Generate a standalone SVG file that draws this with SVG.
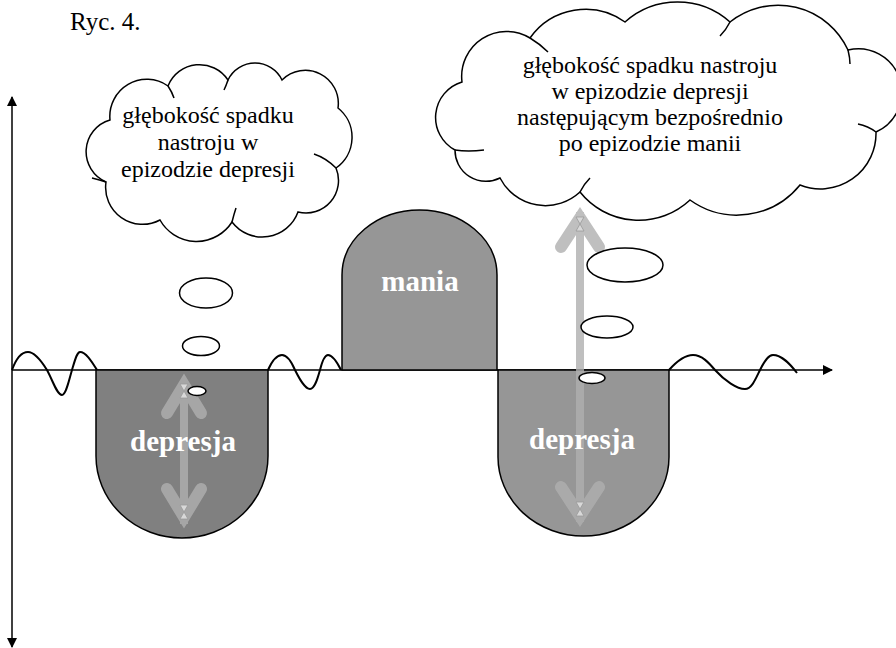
<svg xmlns="http://www.w3.org/2000/svg" width="896" height="648" viewBox="0 0 896 648">
<style>
.ax{stroke:#000;stroke-width:1.5;fill:none}
.wave{stroke:#000;stroke-width:2;fill:none}
.shape{stroke:#000;stroke-width:1.5}
.cloud{fill:#fff;stroke:#000;stroke-width:1.5}
.fold{fill:none;stroke:#000;stroke-width:1.5}
.bub{fill:#fff;stroke:#000;stroke-width:1.5}
.lbl{font-family:"Liberation Serif","Times New Roman",serif;font-weight:bold;fill:#fff;text-anchor:middle}
.ct{font-family:"Liberation Serif","Times New Roman",serif;font-size:24px;fill:#000;text-anchor:middle}
.arr{opacity:0.8}
.arr line,.arr polyline{stroke:#b0b0b0;fill:none}
.hg{fill:#d8d8d8;stroke:#999;stroke-width:0.8}
</style>
<defs>
<marker id="ah" viewBox="0 0 10 10" refX="9" refY="5" markerWidth="10" markerHeight="10" markerUnits="userSpaceOnUse" orient="auto">
<path d="M0,0 L10,5 L0,10 Z" fill="#000"/>
</marker>
</defs>
<rect width="896" height="648" fill="#fff"/>
<text x="70" y="30" font-family="'Liberation Serif','Times New Roman',serif" font-size="25">Ryc. 4.</text>

<g id="axes">
<line class="ax" x1="12" y1="370" x2="12" y2="97" style="marker-end:url(#ah)"/>
<line class="ax" x1="12" y1="370" x2="12" y2="647" style="marker-end:url(#ah)"/>
<line class="ax" x1="12" y1="370" x2="832" y2="370" style="marker-end:url(#ah)"/>
</g>

<g id="waves">
<path class="wave" d="M12,370 C17,356 23,352 28,352 C35,352 42,362 47,370 C53,381 57,395 62,395 C66,395 69,380 72,370 C75,360 77,352 80,352 C86,352 92,362 97,370"/>
<path class="wave" d="M268,370 C272,361 277,355 282,355 C288,355 292,363 295,370 C300,380 305,389 310,389 C315,389 318,377 320,370 C322,362 325,355 328,355 C333,355 338,364 341,370"/>
<path class="wave" d="M669,370 C677,361 686,355 693,355 C702,355 709,363 715,370 C725,381 737,389 745,389 C752,389 756,378 760,370 C764,362 768,355 773,355 C782,355 790,364 797,373"/>
</g>

<g id="depresja1">
<path class="shape" fill="#808080" d="M96,370 L96,456 A86,82 0 0 0 268,456 L268,370 Z"/>
</g>
<g id="mania">
<path class="shape" fill="#969696" d="M342,370 L342,275 A77.5,65 0 0 1 497,275 L497,370 Z"/>
<text class="lbl" x="420" y="291" font-size="29">mania</text>
</g>
<g id="depresja2">
<path class="shape" fill="#969696" d="M498,370 L498,457 A85.5,79 0 0 0 669,457 L669,370 Z"/>
</g>

<g id="arrows">
<g class="arr">
<line x1="184" y1="380" x2="184" y2="524" stroke-width="8"/>
<polyline points="167,413 184,385 201,413" stroke-width="12" stroke-linecap="round" stroke-linejoin="miter"/>
<polyline points="167,489 184,517 201,489" stroke-width="12" stroke-linecap="round" stroke-linejoin="miter"/>
</g>
<path class="hg" d="M180,384 L188,384 L184,391 Z M180,398 L188,398 L184,391 Z"/>
<path class="hg" d="M180,505 L188,505 L184,512 Z M180,519 L188,519 L184,512 Z"/>
<g class="arr">
<line x1="580" y1="212" x2="580" y2="522" stroke-width="8"/>
<polyline points="561,247 580,218 599,247" stroke-width="12" stroke-linecap="round" stroke-linejoin="miter"/>
<polyline points="561,487 580,516 599,487" stroke-width="12" stroke-linecap="round" stroke-linejoin="miter"/>
</g>
<path class="hg" d="M576,217 L584,217 L580,224 Z M576,231 L584,231 L580,224 Z"/>
<path class="hg" d="M576,502 L584,502 L580,509 Z M576,516 L584,516 L580,509 Z"/>
</g>

<text class="lbl" x="183" y="451" font-size="29">depresja</text>
<text class="lbl" x="582" y="449" font-size="29">depresja</text>

<g id="bubbles-left">
<ellipse class="bub" cx="206" cy="293" rx="26.5" ry="15"/>
<ellipse class="bub" cx="201" cy="346" rx="18.5" ry="9.5"/>
<ellipse class="bub" cx="197" cy="391" rx="9" ry="4.5"/>
</g>
<g id="bubbles-right">
<ellipse class="bub" cx="625" cy="265" rx="38" ry="17"/>
<ellipse class="bub" cx="607" cy="327" rx="26" ry="11"/>
<ellipse class="bub" cx="592" cy="378" rx="13" ry="5.5"/>
</g>

<g id="cloud-left">
<path class="cloud" d="M106,182 A33,33 0 0 1 110,120 A37,37 0 0 1 168,86 A34,34 0 0 1 228,80 A30,30 0 0 1 282,80 A33,33 0 0 1 338,108 A37.5,37.5 0 0 1 336,168 A32.5,32.5 0 0 1 298,212 A38,38 0 0 1 232,222 A42,42 0 0 1 160,220 A37,37 0 0 1 106,182 Z"/>
<path class="fold" d="M92,178 Q100,180 106,182 M168,86 Q172,92 174,98 M228,80 Q226,86 224,90 M336,168 Q326,158 314,154 M232,222 Q234,214 236,208"/>
<text class="ct" x="208" y="123">głębokość spadku</text>
<text class="ct" x="208" y="150">nastroju w</text>
<text class="ct" x="208" y="177">epizodzie depresji</text>
</g>

<g id="cloud-right">
<path class="cloud" d="M455,150 A37,37 0 0 1 462,82 A45,45 0 0 1 530,38 A68,68 0 0 1 625,22 A79,79 0 0 1 730,22 A77,77 0 0 1 848,50 A43.5,43.5 0 0 1 876,132 A55.5,55.5 0 0 1 800,185 A81,81 0 0 1 690,200 A75,75 0 0 1 580,192 A51,51 0 0 1 500,178 A31,31 0 0 1 455,150 Z"/>
<path class="fold" d="M455,150 Q468,152 484,150 M530,38 Q540,44 548,52 M730,22 Q726,30 720,36 M848,50 Q850,58 850,64 M876,132 Q868,126 858,124 M580,192 Q584,184 590,178"/>
<text class="ct" x="650" y="73">głębokość spadku nastroju</text>
<text class="ct" x="650" y="99">w epizodzie depresji</text>
<text class="ct" x="650" y="125">następującym bezpośrednio</text>
<text class="ct" x="650" y="151">po epizodzie manii</text>
</g>
</svg>
